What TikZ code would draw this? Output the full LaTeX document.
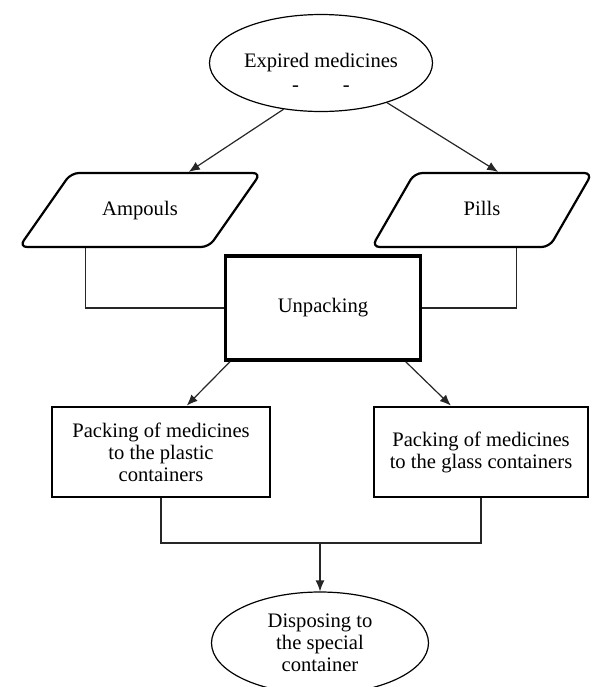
\documentclass[tikz,border=0pt]{standalone}
\usepackage{fontspec}
\setmainfont{Liberation Serif}
\usepackage{tikz}
\usetikzlibrary{arrows,arrows.meta,shapes.geometric,calc,positioning}
\tikzstyle{startstop} = [ellipse, draw=black, line width=0.6pt, inner sep=0pt, text centered, align=center]
\tikzstyle{io} = [trapezium, trapezium left angle=55, trapezium right angle=125, inner xsep=2pt, inner ysep=14pt, text height=7pt, text depth=2pt, text width=65pt, align=center, draw=black, line width=1.1pt, rounded corners=4pt]
\tikzstyle{process} = [rectangle, draw=black, text centered, align=center, line width=1.4pt]
\tikzstyle{line} = [draw=black!85, line width=0.6pt]

\begin{document}
\begin{tikzpicture}[>={Latex[length=5.5pt,width=4.5pt]}, x=0.5pt, y=-0.5pt, font=\fontsize{10.3}{11}\selectfont]
            \useasboundingbox (0,0) rectangle (600,687);

            \node[startstop, minimum width=111.5pt, minimum height=48.5pt] (Expired) at (321,63) {\rule{0pt}{16pt}Expired medicines\\[1pt]-\hspace{22pt}-};
            \node[io] (Ampouls) at (140,210) {Ampouls};
            \node[io, text width=63.5pt, trapezium left angle=60, trapezium right angle=120] (Pills) [right of=Ampouls, node distance=171pt] {Pills};
            \node[process, line width=1.7pt, minimum width=97.5pt, minimum height=52pt] (Unpacking) at (323,308) {Unpacking};
            \node[process, minimum width=109pt, minimum height=45pt] (Plastic) at (161,452) {Packing of medicines\\to the plastic\\containers};
            \node[process, minimum width=107pt, minimum height=45pt] (Glass) [right of=Plastic, node distance=160pt] {Packing of medicines\\to the glass containers};
            \node[startstop, minimum width=108.5pt, minimum height=51pt] (Disposing) at (320,643) {Disposing to\\the special\\container};
            \coordinate (join) at (320,543);

            \draw[line,->] (Expired.231) -- (Ampouls.38);
            \draw[line,->] (Expired.329) -- (Pills.67);
            \draw[line] (Ampouls.215) |- (Unpacking.west);
            \draw[line] (Pills.312) |- (Unpacking.east);
            \draw[line,->] (Unpacking.210) -- (Plastic.61);
            \draw[line,->] (Unpacking.327) -- (Glass.123);
            \draw[line] (Plastic.south) |- (join) -| (Glass.south);
            \draw[line,->] (join) -- (Disposing.north);
        \end{tikzpicture}
\end{document}
